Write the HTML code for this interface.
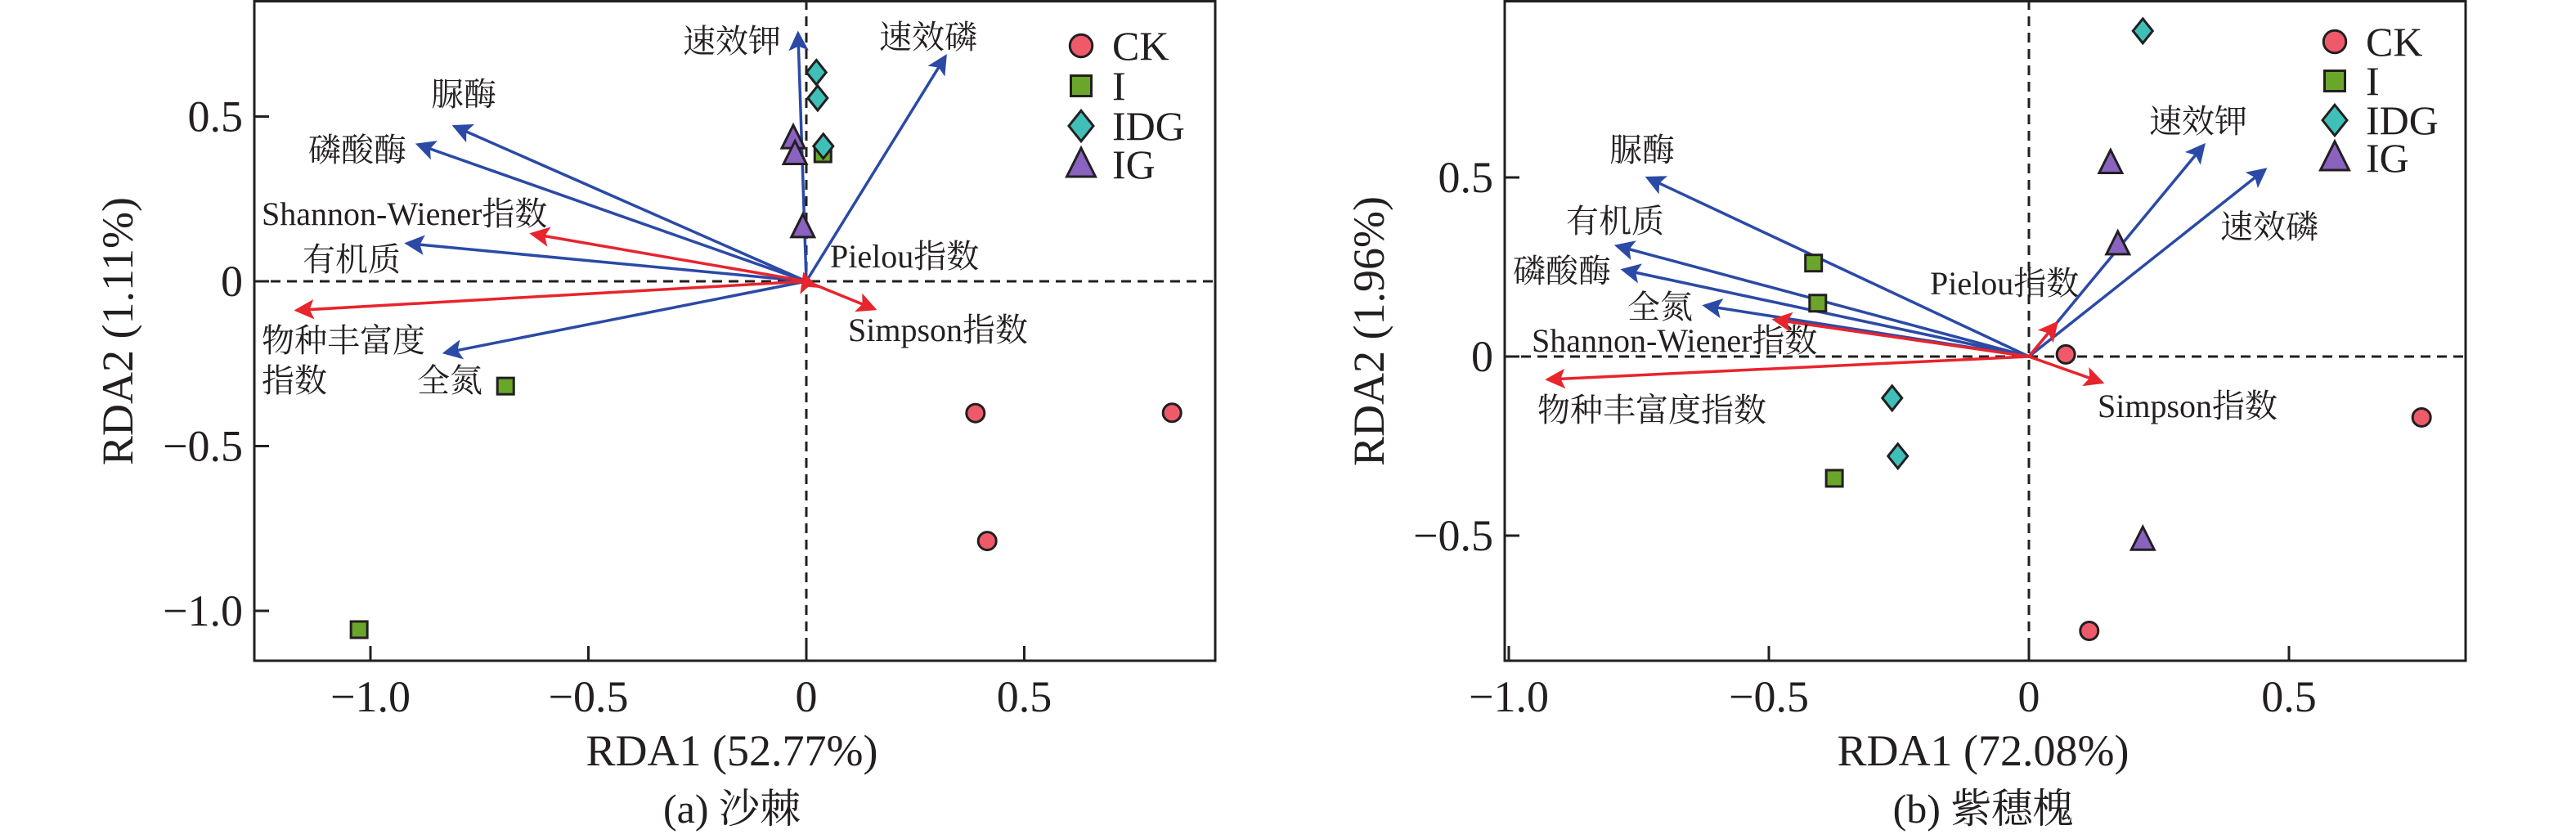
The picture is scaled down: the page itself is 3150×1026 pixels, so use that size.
<!DOCTYPE html>
<html><head><meta charset="utf-8"><style>
html,body{margin:0;padding:0;background:#fff;}
svg{display:block;}
text{font-family:"Liberation Serif","Noto Serif CJK SC",serif;fill:#231f20;}
</style></head><body>
<svg id="chart" width="3150" height="1026" viewBox="0 0 3150 1026" xmlns="http://www.w3.org/2000/svg">
<defs>
<marker id="ab" markerWidth="8" markerHeight="8" refX="6" refY="4" orient="auto" markerUnits="strokeWidth"><path d="M0,0.5 L7,4 L0,7.5 L1.5,4 Z" fill="#2b4aa6"/></marker>
<marker id="ar" markerWidth="8" markerHeight="8" refX="6" refY="4" orient="auto" markerUnits="strokeWidth"><path d="M0,0.5 L7,4 L0,7.5 L1.5,4 Z" fill="#e8242d"/></marker>
</defs>
</svg>
<script>
const catsA = ['CK','CK','CK','I','I','I','IDG','IDG','IDG','IG','IG','IG'];
const xA = [0.388,0.839,0.415,-0.69,-1.026,0.038,0.023,0.026,0.039,-0.03,-0.026,-0.008];
const yA = [-0.40,-0.399,-0.788,-0.318,-1.057,0.387,0.634,0.556,0.41,0.434,0.386,0.164];
const arrNamesA = ['速效钾','速效磷','脲酶','磷酸酶','有机质','全氮','Shannon-Wiener指数','物种丰富度指数','Simpson指数','Pielou指数'];
const arrXA = [-0.019,0.319,-0.807,-0.891,-0.916,-0.829,-0.629,-1.169,0.156,-0.005];
const arrYA = [0.752,0.682,0.47,0.415,0.115,-0.217,0.144,-0.088,-0.084,0.02];
const arrColA = ['b','b','b','b','b','b','r','r','r','r'];
const catsB = ['CK','CK','CK','I','I','I','IDG','IDG','IDG','IG','IG','IG'];
const xB = [0.071,0.755,0.116,-0.414,-0.406,-0.374,0.219,-0.263,-0.252,0.157,0.171,0.219];
const yB = [0.006,-0.17,-0.766,0.261,0.149,-0.34,0.909,-0.116,-0.278,0.54,0.313,-0.512];
const arrNamesB = ['速效钾','速效磷','脲酶','有机质','磷酸酶','全氮','Shannon-Wiener指数','物种丰富度指数','Simpson指数','Pielou指数'];
const arrXB = [0.336,0.454,-0.733,-0.792,-0.78,-0.623,-0.489,-0.925,0.14,0.053];
const arrYB = [0.59,0.522,0.499,0.309,0.242,0.142,0.103,-0.064,-0.072,0.093];
const arrColB = ['b','b','b','b','b','b','r','r','r','r'];
const xTicks = [-1.0,-0.5,0,0.5];
const xTickLabels = ['−1.0','−0.5','0','0.5'];
const yTicksA = [0.5,0,-0.5,-1.0];
const yTickLabelsA = ['0.5','0','−0.5','−1.0'];
const yTicksB = [0.5,0,-0.5];
const yTickLabelsB = ['0.5','0','−0.5'];
const legendCats = ['CK','I','IDG','IG'];

const NS='http://www.w3.org/2000/svg';
const svg=document.getElementById('chart');
function mk(tag,attrs,parent){const e=document.createElementNS(NS,tag);for(const k in attrs)e.setAttribute(k,attrs[k]);(parent||svg).appendChild(e);return e;}
function txt(s,x,y,size,anchor,parent){const t=mk('text',{x:x,y:y,'font-size':size,'text-anchor':anchor||'start'},parent);t.textContent=s;return t;}
function marker(cat,cx,cy,g,s){
  s=s||1;
  let e;
  if(cat==='CK'){e=mk('ellipse',{cx:cx,cy:cy,rx:11*s,ry:11*s,fill:'#ef5a6a',stroke:'#231f20','stroke-width':3},g);}
  else if(cat==='I'){e=mk('rect',{x:cx-10*s,y:cy-10*s,width:20*s,height:20*s,fill:'#6aa629',stroke:'#231f20','stroke-width':3},g);}
  else if(cat==='IDG'){e=mk('polygon',{points:`${cx},${cy-15*s} ${cx+12*s},${cy} ${cx},${cy+15*s} ${cx-12*s},${cy}`,fill:'#3fbfb8',stroke:'#231f20','stroke-width':3},g);}
  else {e=mk('polygon',{points:`${cx},${cy-16*s} ${cx+14*s},${cy+12*s} ${cx-14*s},${cy+12*s}`,fill:'#8a62c0',stroke:'#231f20','stroke-width':3},g);}
  return e;
}
function panel(cfg){
  const g=mk('g',{});
  
  
  const sx=v=>cfg.x0+v*cfg.kx, sy=v=>cfg.y0-v*cfg.ky;
  const fr=mk('rect',{x:cfg.L,y:1.5,width:cfg.R-cfg.L,height:806.5,fill:'none',stroke:'#231f20','stroke-width':3},g);
  
  
  const hl=mk('line',{x1:cfg.L,x2:cfg.R,y1:sy(0),y2:sy(0),stroke:'#231f20','stroke-width':3,'stroke-dasharray':'12,8'},g);
  
  
  const vl=mk('line',{x1:sx(0),x2:sx(0),y1:0,y2:808,stroke:'#231f20','stroke-width':3,'stroke-dasharray':'12,8'},g);
  
  
  xTicks.forEach((v,i)=>{
    mk('line',{x1:sx(v),x2:sx(v),y1:808,y2:790,stroke:'#231f20','stroke-width':3},g);
    const t=txt(xTickLabels[i],sx(v),870,54,'middle',g);
    
    
  });
  cfg.yt.forEach((v,i)=>{
    mk('line',{x1:cfg.L,x2:cfg.L+18,y1:sy(v),y2:sy(v),stroke:'#231f20','stroke-width':3},g);
    const t=txt(cfg.ytl[i],cfg.L-14,sy(v)+18,54,'end',g);
    
    
  });
  cfg.ax.forEach((v,i)=>{
    const col=cfg.ac[i]==='b'?'#2b4aa6':'#e8242d';
    const a=mk('line',{x1:sx(0),y1:sy(0),x2:sx(v),y2:sy(cfg.ay[i]),stroke:col,'stroke-width':3.5,'marker-end':cfg.ac[i]==='b'?'url(#ab)':'url(#ar)'},g);
    
    
  });
  cfg.labels.forEach(l=>{
    const t=txt(l[0],l[1],l[2]+13,40,l[3],g);
    
    
  });
  cfg.cats.forEach((c,i)=>{
    const m=marker(c,sx(cfg.xs[i]),sy(cfg.ys[i]),g);
    
    
  });
  legendCats.forEach((c,i)=>{
    const m=marker(c,cfg.legX,cfg.legY[i],g,1.25);
    
    
    const t=txt(c,cfg.legX+38,cfg.legY[i]+17,50,'start',g);
    
    
  });
  const xt=txt(cfg.xtitle,cfg.cx,936,54,'middle',g);
  
  
  const cap=txt(cfg.caption,cfg.cx,1006,50,'middle',g);
  
  
  const yt=txt(cfg.ytitle,0,0,54,'middle',g);
  yt.setAttribute('transform',`translate(${cfg.ytx},405) rotate(-90)`);
  
  
}
panel({name:'panel-a',L:311,R:1486,x0:986,kx:533,y0:344,ky:403,yt:yTicksA,ytl:yTickLabelsA,
  cats:catsA,xs:xA,ys:yA,ax:arrXA,ay:arrYA,ac:arrColA,an:arrNamesA,
  labels:[['速效钾',895,51,'middle'],['速效磷',1135,46,'middle'],['脲酶',567,116,'middle'],['磷酸酶',437,184,'middle'],
    ['Shannon-Wiener指数',320,262,'start'],['有机质',430,318,'middle'],['Pielou指数',1015,314,'start'],
    ['物种丰富度',320,417,'start'],['指数',320,466,'start'],['全氮',550,466,'middle'],['Simpson指数',1037,404,'start']],
  legX:1322,legY:[56,105,154,201],xtitle:'RDA1 (52.77%)',caption:'(a) 沙棘',cx:895,ytitle:'RDA2 (1.11%)',ytx:162});
panel({name:'panel-b',L:1840,R:3015,x0:2481,kx:636,y0:436,ky:438,yt:yTicksB,ytl:yTickLabelsB,
  cats:catsB,xs:xB,ys:yB,ax:arrXB,ay:arrYB,ac:arrColB,an:arrNamesB,
  labels:[['脲酶',2008,184,'middle'],['有机质',1975,271,'middle'],['磷酸酶',1910,332,'middle'],['全氮',2030,376,'middle'],
    ['Shannon-Wiener指数',1873,417,'start'],['物种丰富度指数',1880,502,'start'],['Pielou指数',2360,347,'start'],
    ['Simpson指数',2565,497,'start'],['速效钾',2688,149,'middle'],['速效磷',2775,278,'middle']],
  legX:2855,legY:[51,99,147,193],xtitle:'RDA1 (72.08%)',caption:'(b) 紫穗槐',cx:2425,ytitle:'RDA2 (1.96%)',ytx:1692});
</script>
</body></html>
